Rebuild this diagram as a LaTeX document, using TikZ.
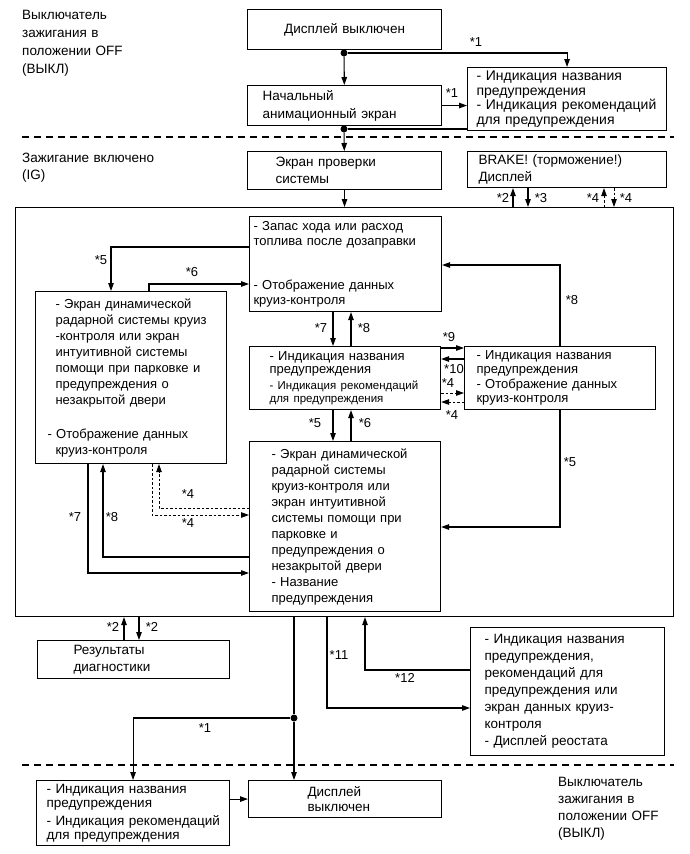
\documentclass[tikz,border=0pt]{standalone}
\usepackage{fontspec}
\setmainfont{Liberation Sans}
\usetikzlibrary{arrows.meta}
\newcommand{\fsz}[2]{\fontsize{#1}{#2}\selectfont}
\tikzset{
  box/.style={draw, line width=1.1pt, anchor=north west, inner sep=0pt,
              align=left, font=\fsz{13}{16}},
  indent/.style={execute at begin node={\leftskip=#1pt\relax}},
  note/.style={anchor=base west, inner sep=0pt, align=left, text width=160,
               font=\fsz{13.5}{18}},
  lbl/.style={inner sep=0pt, font=\fsz{13}{15}},
  dot/.style={circle, fill, inner sep=0pt, minimum size=7pt},
  link/.style={line width=1.1pt},
  arr/.style={link, -{Triangle[length=8pt,width=5.5pt]}},
  darr/.style={arr, line width=1pt, dash pattern=on 2.5pt off 2pt},
  sep/.style={line width=1.2pt, dash pattern=on 7pt off 5pt},
}
\begin{document}
\begin{tikzpicture}[x=1pt, y=-1pt]
\useasboundingbox (0,0) rectangle (689,854);

% Ignition OFF (top)
\node[note] (offtop) at (22,19) {Выключатель\\зажигания в\\положении OFF\\(ВЫКЛ)};
\node[box, minimum width=194, minimum height=40, text width=194, align=center,
      font=\fsz{13.5}{16}] (dispoff) at (247,9) {Дисплей выключен};
\node[box, minimum width=194, minimum height=40, text width=194, indent=15,
      font=\fsz{13.5}{18}] (anim) at (247,85) {Начальный\\анимационный экран};
\node[box, minimum width=199, minimum height=63, text width=199, indent=9,
      font=\fsz{14}{14.5}] (warn1) at (467,67)
      {- Индикация названия\\предупреждения\\- Индикация рекомендаций\\для предупреждения};
\node[dot] (j1) at (344,53) {};
\node[dot] (j2) at (344,129) {};

\draw[link] (dispoff) -- (j1);
\draw[arr] (j1) -- (anim);
\draw[arr] (j1) -| (warn1);
\draw[arr] (anim.east) -- (anim.east -| warn1.west);
\draw[link] (anim) -- (j2);
\draw[link] (j2) -- (j2 -| warn1.west);
\node[lbl] (s1a) at (476,42) {*1};
\node[lbl] (s1b) at (452,93) {*1};

\draw[sep] (22,137) -- (674,137);

% Ignition ON
\node[note, font=\fsz{13.5}{17}] (ignon) at (22,162) {Зажигание включено\\(IG)};
\node[box, minimum width=194, minimum height=38, text width=194, indent=28,
      font=\fsz{13.5}{17}] (check) at (247,151) {Экран проверки\\системы};
\node[box, minimum width=199, minimum height=36, text width=199, indent=11,
      font=\fsz{13.5}{17}] (brake) at (467,151) {BRAKE! (торможение!)\\Дисплей};
\node[box, minimum width=658, minimum height=409] (ig) at (15,207) {};

\draw[arr] (j2) -- (check);
\draw[arr] (check) -- (check.south |- ig.north);
\draw[arr] (ig.north -| 513,0) -- (brake.south -| 513,0);
\draw[arr] (brake.south -| 528,0) -- (ig.north -| 528,0);
\draw[darr] (ig.north -| 604,0) -- (brake.south -| 604,0);
\draw[darr] (brake.south -| 614,0) -- (ig.north -| 614,0);
\node[lbl] (s2a) at (503,198) {*2};
\node[lbl] (s3a) at (541,198) {*3};
\node[lbl] (s4a) at (593,198) {*4};
\node[lbl] (s4b) at (626,198) {*4};

% Screens inside IG
\node[box, minimum width=192, minimum height=95, text width=192, indent=4,
      font=\fsz{13}{15}] (fuel) at (249,216)
      {- Запас хода или расход\\топлива после дозаправки\\[29pt]- Отображение данных\\круиз-контроля};
\node[box, minimum width=191, minimum height=172, text width=191, indent=20] (radar) at (35,291)
      {- Экран динамической\\радарной системы круиз\\-контроля или экран\\интуитивной системы\\помощи при парковке и\\предупреждения о\\незакрытой двери\\[18pt]\leftskip=12pt\relax - Отображение данных\\круиз-контроля};
\node[box, minimum width=191, minimum height=63, text width=191, indent=20,
      font=\fsz{13}{13}] (warnmid) at (249,346)
      {- Индикация названия\\предупреждения\\[3pt]\fsz{11.5}{12.5}- Индикация рекомендаций\\для предупреждения};
\node[box, minimum width=191, minimum height=63, text width=191, indent=12,
      font=\fsz{13}{13.5}] (warnside) at (464,346)
      {- Индикация названия\\предупреждения\\[2pt]- Отображение данных\\круиз-контроля};
\node[box, minimum width=191, minimum height=170, text width=191, indent=22] (radar2) at (249,441)
      {- Экран динамической\\радарной системы\\круиз-контроля или\\экран интуитивной\\системы помощи при\\парковке и\\предупреждения о\\незакрытой двери\\- Название\\предупреждения};

\draw[arr] (fuel.west |- 0,247) -| (radar.north -| 111,0);
\draw[arr] (radar.north -| 149,0) |- (fuel.west |- 0,284);
\node[lbl] (s5a) at (101,260) {*5};
\node[lbl] (s6a) at (192,272) {*6};

\draw[arr] (fuel.south -| 333,0) -- (warnmid.north -| 333,0);
\draw[arr] (warnmid.north -| 351,0) -- (fuel.south -| 351,0);
\node[lbl] (s7a) at (321,328) {*7};
\node[lbl] (s8a) at (364,328) {*8};

\draw[arr] (warnmid.east |- 0,348) -- (warnside.west |- 0,348);
\draw[arr] (warnside.west |- 0,359) -- (warnmid.east |- 0,359);
\draw[darr] (warnmid.east |- 0,393) -- (warnside.west |- 0,393);
\draw[darr] (warnside.west |- 0,402) -- (warnmid.east |- 0,402);
\node[lbl] (s9a) at (449,337) {*9};
\node[lbl] (s10a) at (454,369) {*10};
\node[lbl] (s4c) at (448,383) {*4};
\node[lbl] (s4d) at (452,415) {*4};

\draw[arr] (warnside.north -| 560,0) |- (fuel.east |- 0,265);
\draw[arr] (warnside.south -| 560,0) |- (radar2.east |- 0,527);
\node[lbl] (s8b) at (572,300) {*8};
\node[lbl] (s5b) at (570,462) {*5};

\draw[arr] (warnmid.south -| 333,0) -- (radar2.north -| 333,0);
\draw[arr] (radar2.north -| 351,0) -- (warnmid.south -| 351,0);
\node[lbl] (s5c) at (315,423) {*5};
\node[lbl] (s6b) at (365,423) {*6};

\draw[darr] (radar.south -| 152,0) |- (radar2.west |- 0,515);
\draw[darr] (radar2.west |- 0,508) -| (radar.south -| 159,0);
\node[lbl] (s4e) at (188,494) {*4};
\node[lbl] (s4f) at (188,523) {*4};

\draw[arr] (radar2.west |- 0,557) -| (radar.south -| 103,0);
\draw[arr] (radar.south -| 88,0) |- (radar2.west |- 0,573);
\node[lbl] (s8c) at (112,517) {*8};
\node[lbl] (s7b) at (75,517) {*7};

% Below IG
\node[box, minimum width=192, minimum height=38, text width=192, indent=36,
      font=\fsz{13.5}{17}] (diag) at (37,640) {Результаты\\диагностики};
\node[box, minimum width=194, minimum height=128, text width=194, indent=14,
      font=\fsz{13.5}{17}] (rheo) at (470,627)
      {- Индикация названия\\предупреждения,\\рекомендаций для\\предупреждения или\\экран данных круиз-\\контроля\\- Дисплей реостата};
\node[dot] (j3) at (294,718) {};

\draw[arr] (diag.north -| 124,0) -- (ig.south -| 124,0);
\draw[arr] (ig.south -| 139,0) -- (diag.north -| 139,0);
\node[lbl] (s2b) at (113,627) {*2};
\node[lbl] (s2c) at (152,627) {*2};

\draw[arr] (ig.south -| 327,0) |- (rheo.west |- 0,708);
\draw[arr] (rheo.west |- 0,670) -| (ig.south -| 365,0);
\node[lbl] (s11a) at (339,655) {*11};
\node[lbl] (s12a) at (405,678) {*12};

\draw[sep] (22,765) -- (674,765);

% Ignition OFF (bottom)
\node[box, minimum width=193, minimum height=65, text width=193, indent=10,
      font=\fsz{13.5}{14.5}] (warn2) at (36,780)
      {- Индикация названия\\предупреждения\\[3pt]- Индикация рекомендаций\\для предупреждения};
\node[box, minimum width=193, minimum height=37, text width=193, indent=59,
      font=\fsz{13.5}{15}] (dispoff2) at (248,780) {Дисплей\\выключен};
\node[note, font=\fsz{13.5}{17}] (offbot) at (558,786) {Выключатель\\зажигания в\\положении OFF\\(ВЫКЛ)};

\draw[link] (ig.south -| j3) -- (j3);
\draw[arr] (j3) -- (j3 |- dispoff2.north);
\draw[arr] (j3) -| (warn2);
\draw[arr] (warn2.east |- dispoff2.west) -- (dispoff2.west);
\node[lbl] (s1c) at (205,728) {*1};
\end{tikzpicture}
\end{document}
